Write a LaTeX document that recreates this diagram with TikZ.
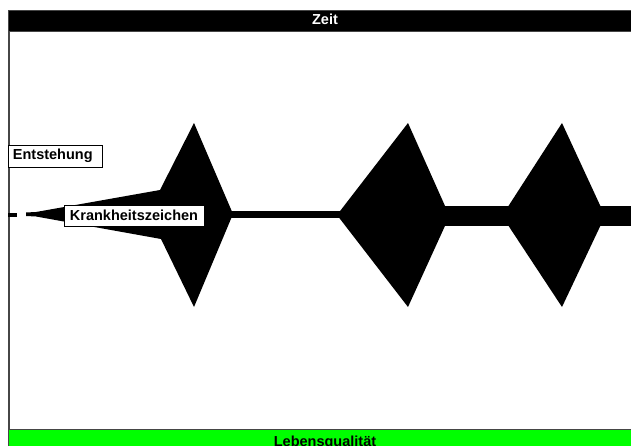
\documentclass[tikz,border=0pt]{standalone}
\usepackage{fontspec}
\setmainfont{Liberation Sans}
\usepackage{tikz}
\definecolor{ZFrame}{RGB}{70,70,70}
\definecolor{ZGreen}{RGB}{0,255,0}

\begin{document}
\begin{tikzpicture}[x=1pt,y=-1pt,
  lbl/.style={font=\fontsize{14.5}{17}\selectfont\bfseries,inner sep=0pt},
  tag/.style={lbl,draw=black,line width=0.8pt,fill=white,minimum height=21pt},
  band/.style={draw=ZFrame,line width=1pt}]
  \useasboundingbox (0,0) rectangle (631,446);
  \clip (0,0) rectangle (631,446);
  \fill[white] (0,0) rectangle (631,446);
  \draw[ZFrame,line width=1.6pt] (9,20) -- (9,435);
  \filldraw[band,fill=black] (8,11) rectangle (650,31.5);
  \filldraw[band,fill=ZGreen] (8,429.5) rectangle (650,465);
  \node[lbl,text=white,anchor=base] (zeit) at (325,24.5) {Zeit};
  \node[lbl,anchor=base] (quali) at (325,446) {Lebensqualität};
  \fill (8,213) rectangle (17,217);
  \fill (26,212.5) -- (36,212) -- (160,190) -- (194,123) -- (233,214) -- (194,307)
    -- (161,239) -- (36,216.5) -- (26,216) -- cycle;
  \fill (225,211) rectangle (340,218);
  \fill (337,215) -- (408,123) -- (449.5,216) -- (408,307) -- cycle;
  \fill (440,206) rectangle (650,226);
  \fill (502,216) -- (562,123) -- (605,216) -- (562,307) -- cycle;
  \node[tag,anchor=west,text width=85pt,inner xsep=4.5pt,minimum height=22pt,align=left] (entstehung) at (8,156) {Entstehung};
  \node[tag,minimum width=140pt] (zeichen) at (134,215.5) {Krankheitszeichen};
\end{tikzpicture}
\end{document}
